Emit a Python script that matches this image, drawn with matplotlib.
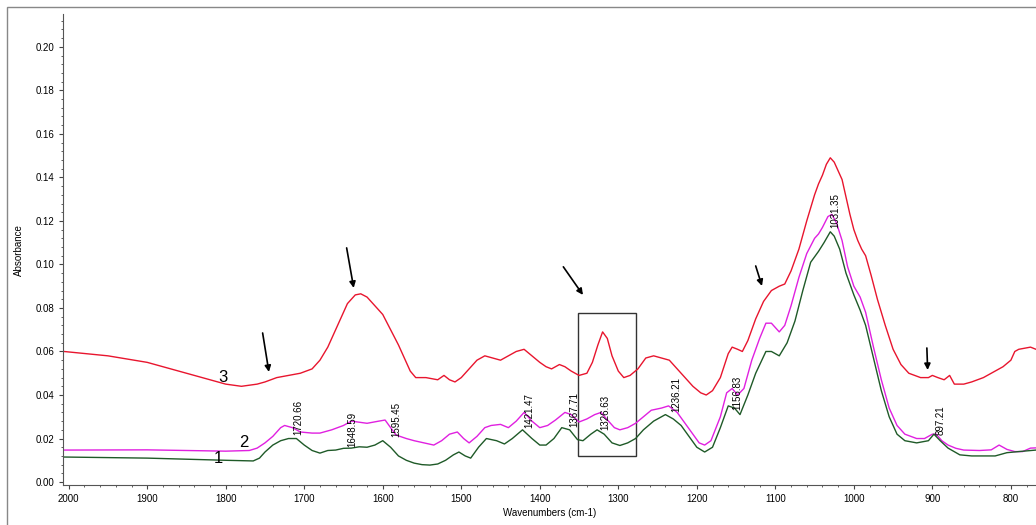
import matplotlib.pyplot as plt
from matplotlib.patches import Rectangle
from matplotlib.ticker import MultipleLocator

plt.rcParams['font.family'] = ['Liberation Sans', 'DejaVu Sans']

# spectrum 3 (red)
wn3 = [2006, 1950, 1900, 1850, 1800, 1780, 1760, 1750, 1735, 1720, 1705, 1690, 1680, 1670,
       1660, 1650, 1645, 1640, 1635, 1628, 1620, 1610, 1600, 1590, 1580, 1570, 1565, 1558,
       1545, 1530, 1522, 1515, 1508, 1500, 1490, 1480, 1470, 1460, 1450, 1440, 1430, 1420,
       1410, 1400, 1392, 1385, 1375, 1368, 1360, 1350, 1340, 1333, 1326, 1320, 1314, 1308,
       1300, 1293, 1285, 1275, 1265, 1255, 1245, 1235, 1225, 1215, 1205, 1195, 1188, 1180,
       1170, 1160, 1155, 1148, 1142, 1135, 1125, 1115, 1105, 1095, 1088, 1080, 1070, 1060,
       1050, 1045, 1040, 1035, 1030, 1025, 1020, 1015, 1010, 1005, 1000, 995, 990, 985, 978,
       970, 960, 950, 940, 930, 915, 905, 900, 893, 885, 878, 872, 860, 850, 835, 820, 810,
       800, 795, 790, 775, 768]
ab3 = [0.060, 0.058, 0.055, 0.050, 0.045, 0.044, 0.045, 0.046, 0.048, 0.049, 0.050, 0.052,
       0.056, 0.062, 0.070, 0.078, 0.082, 0.084, 0.086, 0.0865, 0.085, 0.081, 0.077, 0.070,
       0.063, 0.055, 0.051, 0.048, 0.048, 0.047, 0.049, 0.047, 0.046, 0.048, 0.052, 0.056,
       0.058, 0.057, 0.056, 0.058, 0.060, 0.061, 0.058, 0.055, 0.053, 0.052, 0.054, 0.053,
       0.051, 0.049, 0.050, 0.055, 0.063, 0.069, 0.066, 0.058, 0.051, 0.048, 0.049, 0.052,
       0.057, 0.058, 0.057, 0.056, 0.052, 0.048, 0.044, 0.041, 0.040, 0.042, 0.048, 0.059,
       0.062, 0.061, 0.060, 0.065, 0.075, 0.083, 0.088, 0.090, 0.091, 0.097, 0.107, 0.120,
       0.132, 0.137, 0.141, 0.146, 0.149, 0.147, 0.143, 0.139, 0.131, 0.123, 0.116, 0.111,
       0.107, 0.104, 0.095, 0.084, 0.072, 0.061, 0.054, 0.050, 0.048, 0.048, 0.049, 0.048,
       0.047, 0.049, 0.045, 0.045, 0.046, 0.048, 0.051, 0.053, 0.056, 0.060, 0.061, 0.062,
       0.061]

# spectrum 2 (magenta)
wn2 = [2006, 1900, 1800, 1770, 1760, 1750, 1740, 1730, 1725, 1715, 1705, 1690, 1680, 1665,
       1650, 1640, 1630, 1620, 1605, 1597, 1590, 1583, 1570, 1560, 1545, 1535, 1525, 1515,
       1505, 1497, 1490, 1480, 1470, 1462, 1450, 1440, 1430, 1420, 1410, 1400, 1390, 1380,
       1368, 1360, 1350, 1340, 1330, 1322, 1315, 1305, 1298, 1288, 1278, 1268, 1258, 1245,
       1236, 1225, 1215, 1205, 1197, 1190, 1182, 1170, 1162, 1155, 1148, 1140, 1130, 1120,
       1112, 1105, 1095, 1088, 1080, 1070, 1060, 1050, 1045, 1040, 1033, 1028, 1022, 1015,
       1008, 1000, 992, 985, 975, 965, 955, 945, 935, 920, 910, 900, 895, 888, 880, 870, 860,
       840, 825, 815, 805, 795, 785, 775, 768]
ab2 = [0.0147, 0.0148, 0.0142, 0.0145, 0.0156, 0.018, 0.021, 0.025, 0.026, 0.025, 0.023,
       0.0225, 0.0225, 0.024, 0.026, 0.028, 0.0275, 0.027, 0.028, 0.0285, 0.025, 0.0216,
       0.020, 0.019, 0.0178, 0.017, 0.019, 0.022, 0.023, 0.020, 0.018, 0.021, 0.025, 0.026,
       0.0265, 0.025, 0.028, 0.032, 0.028, 0.025, 0.026, 0.0285, 0.032, 0.031, 0.0276,
       0.029, 0.031, 0.032, 0.029, 0.025, 0.024, 0.025, 0.027, 0.030, 0.033, 0.034, 0.035,
       0.032, 0.027, 0.022, 0.018, 0.017, 0.019, 0.030, 0.041, 0.043, 0.040, 0.043, 0.056,
       0.066, 0.073, 0.073, 0.069, 0.072, 0.081, 0.094, 0.105, 0.112, 0.114, 0.117, 0.122,
       0.123, 0.119, 0.111, 0.099, 0.090, 0.085, 0.078, 0.062, 0.047, 0.034, 0.026, 0.022,
       0.020, 0.020, 0.022, 0.022, 0.019, 0.017, 0.0155, 0.0147, 0.0145, 0.0148, 0.017,
       0.015, 0.014, 0.014, 0.0156, 0.0157]

# spectrum 1 (green)
wn1 = [2006, 1900, 1800, 1765, 1757, 1750, 1740, 1730, 1720, 1710, 1700, 1690, 1680, 1670,
       1660, 1650, 1640, 1630, 1620, 1610, 1600, 1590, 1580, 1570, 1560, 1550, 1540, 1530,
       1520, 1510, 1503, 1495, 1488, 1478, 1468, 1455, 1445, 1435, 1422, 1410, 1400, 1392,
       1382, 1372, 1362, 1352, 1345, 1335, 1327, 1318, 1308, 1298, 1288, 1278, 1268, 1255,
       1240, 1230, 1220, 1210, 1200, 1190, 1180, 1170, 1160, 1152, 1145, 1135, 1125, 1112,
       1105, 1095, 1085, 1075, 1065, 1055, 1045, 1038, 1030, 1025, 1018, 1010, 1000, 992,
       985, 975, 965, 955, 945, 935, 920, 905, 898, 890, 880, 865, 850, 820, 805, 790, 768]
ab1 = [0.0115, 0.011, 0.010, 0.0097, 0.011, 0.0138, 0.017, 0.019, 0.020, 0.020, 0.017,
       0.0145, 0.0133, 0.0145, 0.0147, 0.0155, 0.0156, 0.0162, 0.016, 0.017, 0.019, 0.016,
       0.012, 0.010, 0.0087, 0.008, 0.0078, 0.0083, 0.010, 0.0125, 0.0138, 0.012, 0.011,
       0.016, 0.020, 0.019, 0.0175, 0.020, 0.024, 0.020, 0.017, 0.017, 0.020, 0.025, 0.024,
       0.0195, 0.019, 0.022, 0.024, 0.022, 0.018, 0.0168, 0.018, 0.020, 0.024, 0.028, 0.031,
       0.029, 0.026, 0.021, 0.016, 0.0138, 0.016, 0.025, 0.035, 0.034, 0.031, 0.040, 0.050,
       0.060, 0.060, 0.058, 0.064, 0.074, 0.088, 0.101, 0.106, 0.110, 0.115, 0.113, 0.107,
       0.096, 0.086, 0.079, 0.072, 0.057, 0.042, 0.030, 0.022, 0.019, 0.018, 0.019, 0.022,
       0.019, 0.0156, 0.0125, 0.012, 0.012, 0.0135, 0.014, 0.0147]

peak_labels = ['1720.66', '1648.59', '1595.45', '1421.47', '1367.71', '1326.63',
               '1236.21', '1156.83', '1031.35', '897.21']
peak_x = [1707, 1639, 1583, 1413, 1356, 1317, 1226, 1149, 1024, 889]
peak_y = [0.0216, 0.0161, 0.0207, 0.0248, 0.0253, 0.0239, 0.0322, 0.0331, 0.1168, 0.0216]

fig = plt.figure(figsize=(10.36, 5.25), dpi=100)
ax = fig.add_axes([0.061, 0.076, 0.939, 0.897])

ax.plot(wn3, ab3, color='#e8152e', lw=1.0)
ax.plot(wn2, ab2, color='#e020e0', lw=1.0)
ax.plot(wn1, ab1, color='#1f5a28', lw=1.0)

ax.set_xlim(2007, 768)
ax.set_ylim(-0.0014, 0.215)
ax.xaxis.set_major_locator(MultipleLocator(100))
ax.xaxis.set_minor_locator(MultipleLocator(20))
ax.yaxis.set_major_locator(MultipleLocator(0.02))
ax.yaxis.set_minor_locator(MultipleLocator(0.004))
ax.yaxis.set_major_formatter(plt.FuncFormatter(lambda v, p: '%.2f' % v))
ax.tick_params(labelsize=7, length=3, width=0.8, color='#444444')
ax.tick_params(which='minor', length=1.5, width=0.6, color='#444444')
for s in ['top', 'right']:
    ax.spines[s].set_visible(False)
for s in ['left', 'bottom']:
    ax.spines[s].set_color('#555555')
ax.set_xlabel('Wavenumbers (cm-1)', fontsize=7, labelpad=3)
ax.set_ylabel('Absorbance', fontsize=7, labelpad=8)

# curve numbers
ax.text(1804, 0.048, '3', fontsize=12, ha='center', va='center')
ax.text(1777, 0.0184, '2', fontsize=12, ha='center', va='center')
ax.text(1809, 0.011, '1', fontsize=12, ha='center', va='center')

# peak labels
for lab, px, py in zip(peak_labels, peak_x, peak_y):
    ax.text(px, py, lab, rotation=90, fontsize=7, ha='center', va='bottom')

# arrows
arrows = [((1753, 0.0685), (1745, 0.0506)),
          ((1646, 0.1076), (1637, 0.0892)),
          ((1370, 0.0989), (1345, 0.0860)),
          ((1125, 0.0993), (1117, 0.0901)),
          ((907, 0.0616), (906, 0.0515))]
for tail, head in arrows:
    ax.annotate('', xy=head, xytext=tail,
                arrowprops=dict(arrowstyle='-|>', color='black', lw=1.2,
                                mutation_scale=9, shrinkA=0, shrinkB=0))

# box around 1326 band
ax.add_patch(Rectangle((1351, 0.012), 1277 - 1351, 0.0777 - 0.012,
                       fill=False, edgecolor='#333333', lw=1.0))

# outer frame
fig.patches.append(Rectangle((0.007, -0.01), 1.1, 0.997, transform=fig.transFigure,
                             fill=False, edgecolor='#888888', lw=1.0))

fig.savefig('out.png', dpi=100)
